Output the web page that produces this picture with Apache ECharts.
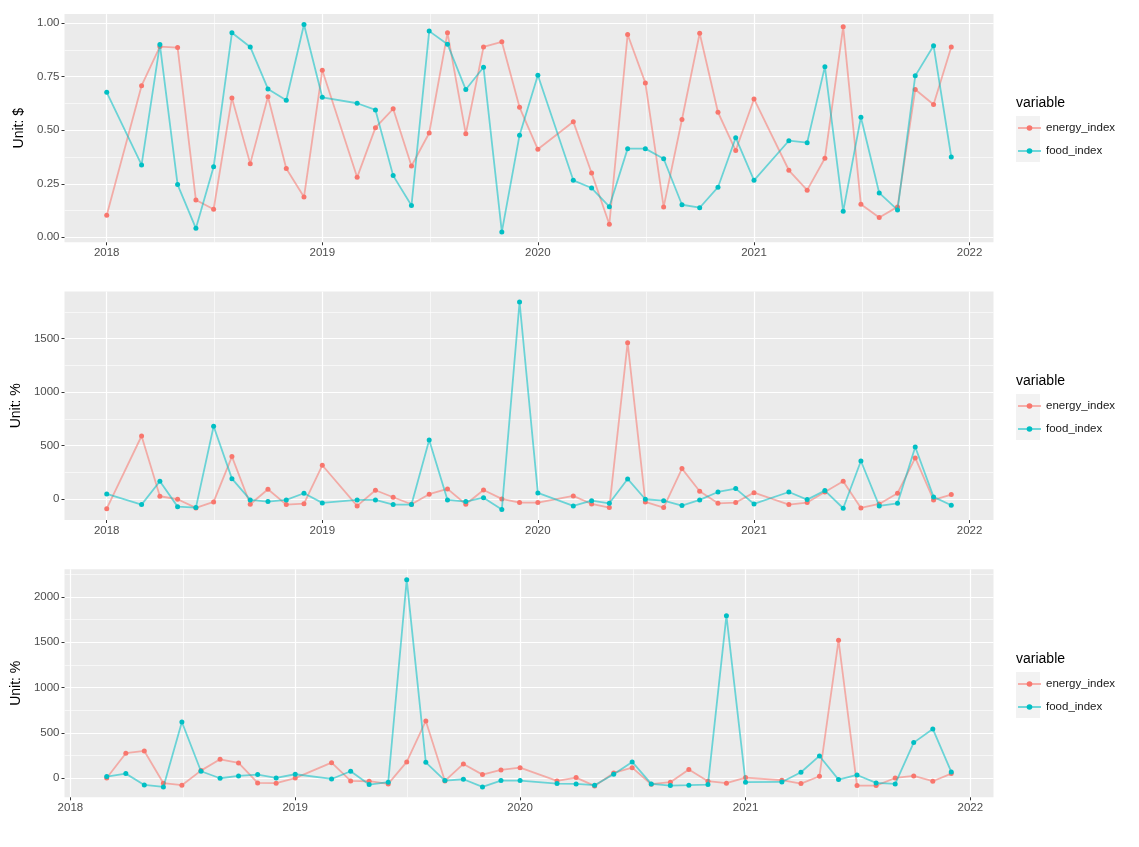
<!DOCTYPE html>
<html><head><meta charset="utf-8">
<script src="https://cdn.jsdelivr.net/npm/echarts@6/dist/echarts.min.js"></script>
<style>html,body{margin:0;padding:0;background:#fff}#c{width:1139px;height:847px}</style>
</head><body><div id="c"></div>
<script>
// ---- data ----
const datesA = [
 '2018-01-01','2018-03-01','2018-04-01','2018-05-01','2018-06-01','2018-07-01','2018-08-01','2018-09-01','2018-10-01','2018-11-01','2018-12-01',
 '2019-01-01','2019-03-01','2019-04-01','2019-05-01','2019-06-01','2019-07-01','2019-08-01','2019-09-01','2019-10-01','2019-11-01','2019-12-01',
 '2020-01-01','2020-03-01','2020-04-01','2020-05-01','2020-06-01','2020-07-01','2020-08-01','2020-09-01','2020-10-01','2020-11-01','2020-12-01',
 '2021-01-01','2021-03-01','2021-04-01','2021-05-01','2021-06-01','2021-07-01','2021-08-01','2021-09-01','2021-10-01','2021-11-01','2021-12-01'
];
const datesB = [
 '2018-03-01','2018-04-01','2018-05-01','2018-06-01','2018-07-01','2018-08-01','2018-09-01','2018-10-01','2018-11-01','2018-12-01',
 '2019-01-01','2019-03-01','2019-04-01','2019-05-01','2019-06-01','2019-07-01','2019-08-01','2019-09-01','2019-10-01','2019-11-01','2019-12-01',
 '2020-01-01','2020-03-01','2020-04-01','2020-05-01','2020-06-01','2020-07-01','2020-08-01','2020-09-01','2020-10-01','2020-11-01','2020-12-01',
 '2021-01-01','2021-03-01','2021-04-01','2021-05-01','2021-06-01','2021-07-01','2021-08-01','2021-09-01','2021-10-01','2021-11-01','2021-12-01'
];
const energyPrice = [
 0.103,0.708,0.891,0.886,0.174,0.131,0.651,0.344,0.656,0.321,0.188,
 0.780,0.280,0.512,0.600,0.333,0.487,0.955,0.483,0.889,0.913,0.607,
 0.411,0.540,0.300,0.061,0.947,0.721,0.142,0.550,0.953,0.584,0.405,
 0.646,0.313,0.220,0.369,0.983,0.154,0.092,0.142,0.690,0.620,0.889
];
const foodPrice = [
 0.677,0.338,0.900,0.246,0.042,0.329,0.955,0.889,0.693,0.640,0.994,
 0.654,0.626,0.595,0.288,0.148,0.963,0.902,0.690,0.794,0.025,0.477,
 0.757,0.266,0.230,0.143,0.414,0.414,0.367,0.152,0.138,0.234,0.465,
 0.266,0.451,0.442,0.797,0.121,0.561,0.207,0.128,0.754,0.895,0.375
];
const energyPct1 = [
 -91,589,25,-3,-84,-28,396,-50,91,-53,-44,
 315,-65,81,16,-50,44,94,-50,84,0,-34,
 -34,28,-47,-81,1462,-28,-81,284,72,-41,-34,
 59,-53,-34,65,165,-84,-47,53,384,-9,41
];
const foodPct1 = [
 47,-53,165,-72,-81,680,190,-9,-25,-9,53,
 -37,-9,-9,-53,-53,552,-9,-25,12,-100,1843,
 56,-65,-16,-41,187,-3,-16,-62,-9,65,97,
 -47,65,-6,78,-87,355,-65,-41,486,19,-59
];
const energyPct2 = [
 3,276,301,-55,-77,84,209,169,-52,-55,
 2,172,-30,-33,-63,180,632,-30,158,40,92,
 117,-30,7,-85,58,117,-66,-44,97,-33,-55,
 7,-22,-59,22,1522,-81,-81,3,25,-33,51
];
const foodPct2 = [
 18,51,-74,-96,621,77,0,25,40,3,
 44,-8,77,-70,-44,2191,176,-26,-11,-96,-26,
 -26,-59,-63,-77,44,180,-63,-81,-77,-70,1794,
 -44,-41,66,246,-15,36,-52,-63,393,544,70
];
const yearTicks = ['2018-01-01','2019-01-01','2020-01-01','2021-01-01','2022-01-01'];
const yTicksPrice = [0, 0.25, 0.5, 0.75, 1.0];
const yTicksPct = [0, 500, 1000, 1500, 2000];
const seriesNames = ['energy_index', 'food_index'];
const colors = ['#F8766D', '#00BFC4'];
const yTitles = ['Unit: $', 'Unit: %', 'Unit: %'];

// ---- helpers ----
function toTs(s){ return Date.UTC(+s.slice(0,4), +s.slice(5,7)-1, +s.slice(8,10)); }
function expand(arr){ const lo=Math.min(...arr), hi=Math.max(...arr), d=(hi-lo)*0.05; return [lo-d, hi+d]; }
function minorOf(t){ const s=t[1]-t[0]; return [t[0]-s/2].concat(t.map(v=>v+s/2)); }

const yearTs = yearTicks.map(toTs);
const yearMinor = [toTs('2017-07-02')].concat(yearTs.slice(0,-1).map((v,i)=>(v+yearTs[i+1])/2));

const FONT = 'Liberation Sans, Arial, Helvetica, sans-serif';
const panels = [
 {dates: datesA, e: energyPrice, f: foodPrice, ticks: yTicksPrice, fmt: v=>Number(v).toFixed(2), top:14.1, height:228.2},
 {dates: datesA, e: energyPct1, f: foodPct1, ticks: yTicksPct, fmt: v=>String(v), top:291.6, height:228.4},
 {dates: datesB, e: energyPct2, f: foodPct2, ticks: yTicksPct, fmt: v=>String(v), top:569.3, height:228.0}
];
const offsets = [0, 278, 556];

const grid=[], xAxis=[], yAxis=[], series=[], legend=[], title=[], graphic=[];
panels.forEach((p,i)=>{
  grid.push({left:64.5, width:929, top:p.top, height:p.height, show:true, backgroundColor:'#EBEBEB', borderWidth:0});
  const ts = p.dates.map(toTs);
  const xr = expand(ts);
  const yr = expand(p.e.concat(p.f));
  xAxis.push({type:'value', gridIndex:i, min:xr[0], max:xr[1], position:'bottom',
    axisLine:{show:false, onZero:false},
    axisTick:{show:true, length:3, lineStyle:{color:'#333333', width:1}, customValues: yearTs},
    axisLabel:{customValues: yearTs, formatter: v=>String(new Date(v).getUTCFullYear()), color:'#4D4D4D', fontSize:11.5, margin:5, fontFamily:FONT},
    splitLine:{show:true, lineStyle:{color:'#FFFFFF', width:1.2}}});
  yAxis.push({type:'value', gridIndex:i, min:yr[0], max:yr[1], position:'left',
    axisLine:{show:false, onZero:false},
    axisTick:{show:true, length:3, lineStyle:{color:'#333333', width:1}, customValues: p.ticks},
    axisLabel:{customValues: p.ticks, formatter: p.fmt, color:'#4D4D4D', fontSize:11.5, margin:5, fontFamily:FONT},
    splitLine:{show:true, lineStyle:{color:'#FFFFFF', width:1.2}},
    name: yTitles[i], nameLocation:'middle', nameGap:35,
    nameTextStyle:{fontSize:14, color:'#000000', fontFamily:FONT}});
  [p.e, p.f].forEach((vals,k)=>{
    series.push({type:'line', name:seriesNames[k], xAxisIndex:i, yAxisIndex:i,
      data: ts.map((t,j)=>[t, vals[j]]),
      symbol:'circle', symbolSize:5, showSymbol:true,
      itemStyle:{color:colors[k]},
      lineStyle:{color:colors[k], width:1.8, opacity:0.55},
      emphasis:{disabled:true}, animation:false, z: 2+k});
  });
  legend.push({data:seriesNames, orient:'vertical', left:1017, top:122+offsets[i], padding:0,
    itemWidth:23, itemHeight:7, itemGap:11, selectedMode:false,
    textStyle:{fontSize:11.5, color:'#1A1A1A', fontFamily:FONT}});
  title.push({text:'variable', left:1016, top:96+offsets[i], padding:0,
    textStyle:{fontSize:14, fontWeight:'normal', color:'#000000', fontFamily:FONT}});
  graphic.push({type:'rect', left:1016, top:116+offsets[i], shape:{width:24, height:46}, style:{fill:'#F2F2F2'}, z:-1});
});
// minor grid axes
panels.forEach((p,i)=>{
  const xr = xAxis[i], yr = yAxis[i];
  xAxis.push({type:'value', gridIndex:i, min:xr.min, max:xr.max, position:'top',
    axisLine:{show:false, onZero:false}, axisTick:{show:false, customValues: yearMinor}, axisLabel:{show:false, customValues: yearMinor},
    splitLine:{show:true, lineStyle:{color:'#FFFFFF', width:0.6}}});
  const ym = minorOf(p.ticks);
  yAxis.push({type:'value', gridIndex:i, min:yr.min, max:yr.max, position:'right',
    axisLine:{show:false, onZero:false}, axisTick:{show:false, customValues: ym}, axisLabel:{show:false, customValues: ym},
    splitLine:{show:true, lineStyle:{color:'#FFFFFF', width:0.6}}});
});

const chart = echarts.init(document.getElementById('c'), null, {renderer:'canvas'});
chart.setOption({animation:false, textStyle:{fontFamily:FONT}, grid, xAxis, yAxis, series, legend, title, graphic});
</script></body></html>
